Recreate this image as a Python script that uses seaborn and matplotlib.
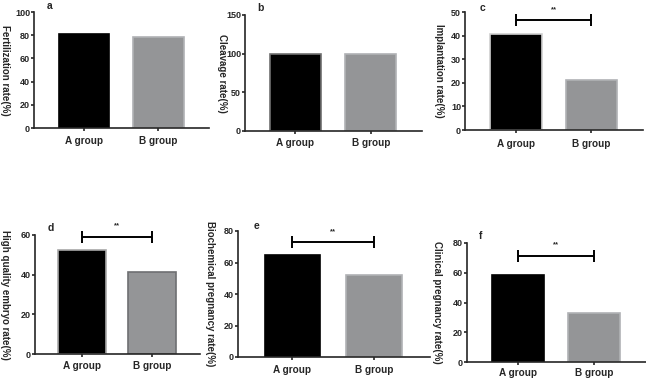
"""
Six bar panels (a-f): A group vs B group rates, with significance brackets.
"""

import matplotlib
matplotlib.use('Agg')
import matplotlib.pyplot as plt
import seaborn as sns

## Data
groups = ['A group', 'B group']
panel_letters = ['a', 'b', 'c', 'd', 'e', 'f']
ylabels = ['Fertilization rate(%)', 'Cleavage rate(%)', 'Implantation rate(%)',
           'High quality embryo rate(%)', 'Biochemical pregnancy rate(%)',
           'Clinical pregnancy rate(%)']
fertilization = [80.8, 78.7]
cleavage = [99.4, 99.2]
implantation = [40.7, 21.1]
high_quality = [52.3, 41.2]
biochemical = [65.0, 52.2]
clinical = [58.2, 33.1]
ymax = [100, 150, 50, 60, 80, 80]
ystep = [20, 50, 10, 20, 20, 20]
# significance bracket height (None = no bracket)
bracket_y = [None, None, 46.6, 59.2, 73.0, 71.5]
bracket_text = ['', '', '**', '**', '**', '**']

all_values = [fertilization, cleavage, implantation, high_quality, biochemical, clinical]

## Layout in pixels: left, top, right, bottom of each axes
W, H = 646, 381
boxes = [(34, 12, 209, 128), (245, 15, 422, 131), (465, 12, 643, 130),
         (35, 235, 200, 354), (237.5, 231, 430, 357), (467, 243, 646, 362)]
label_pos = [(5, 70), (222, 73), (439, 71), (5, 295), (210, 294), (437, 302)]
letter_pos = [(50, 6), (260, 8), (483, 8), (51, 228), (257, 226), (481, 236)]
xpad = [3.5, 2.5, 4, 2.5, 3.5, 1.5]

black = '#000000'
gray = '#939598'
edge_a = ['#000000', '#707070', '#d0d0d0', '#a8a8a8', '#000000', '#000000']
edge_b = ['#b0b2b5', '#b0b2b5', '#b0b2b5', '#6e6f72', '#b0b2b5', '#b0b2b5']

sns.set_style('ticks')
plt.rcParams['font.family'] = ['Liberation Sans', 'DejaVu Sans']
plt.rcParams['font.weight'] = 'bold'
plt.rcParams['axes.labelweight'] = 'bold'

fig = plt.figure(figsize=(W / 100, H / 100), dpi=100)

for i, vals in enumerate(all_values):
    l, t, r, b = boxes[i]
    ax = fig.add_axes([l / W, 1 - b / H, (r - l) / W, (b - t) / H])

    sns.barplot(x=groups, y=vals, hue=groups, palette=[black, gray], legend=False,
                width=0.68, linewidth=1.2, ax=ax)
    for patch, ec in zip(ax.patches, [edge_a[i], edge_b[i]]):
        patch.set_edgecolor(ec)

    ax.set_xlim(-0.67, 1.68)
    ax.set_ylim(0, ymax[i])
    ax.set_yticks(range(0, ymax[i] + 1, ystep[i]))
    ax.set_xlabel('')

    sns.despine(ax=ax)
    for s in ['left', 'bottom']:
        ax.spines[s].set_linewidth(1.2)
    ax.tick_params(axis='y', length=2.2, width=1.2, pad=0.6, labelsize=6.5)
    ax.tick_params(axis='x', length=2.5, width=1.2, pad=xpad[i], labelsize=7.2)
    for lab in ax.get_xticklabels() + ax.get_yticklabels():
        lab.set_fontweight('bold')

    ax.set_ylabel(ylabels[i], fontsize=7, fontweight='bold', rotation=270)
    ax.yaxis.set_label_coords(label_pos[i][0] / W, 1 - label_pos[i][1] / H,
                              transform=fig.transFigure)
    ax.yaxis.label.set_va('center')
    ax.yaxis.label.set_ha('center')

    fig.text(letter_pos[i][0] / W, 1 - letter_pos[i][1] / H, panel_letters[i],
             fontsize=7.5, fontweight='bold', ha='center', va='center')

    if bracket_y[i] is not None:
        ax.errorbar(0.5, bracket_y[i], xerr=0.5, color='black', elinewidth=1.4,
                    capsize=4, capthick=1.4, clip_on=False)
        ax.annotate(bracket_text[i], (0.5, bracket_y[i]), xytext=(0, 5),
                    textcoords='offset points', ha='center', va='bottom',
                    fontsize=5.5, annotation_clip=False)

plt.savefig('out.png', dpi=100)
